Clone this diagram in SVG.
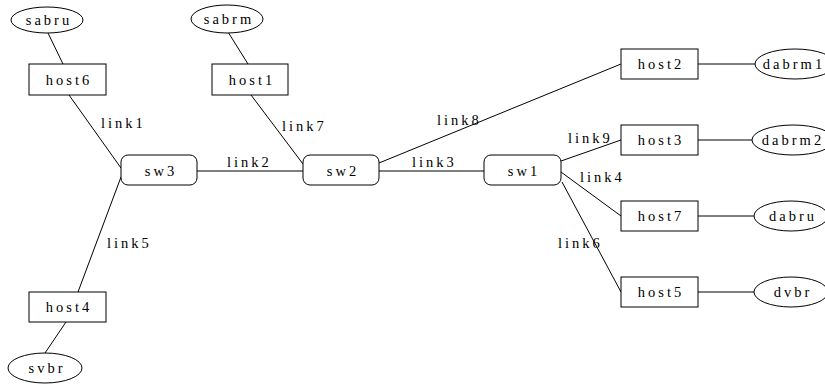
<svg xmlns="http://www.w3.org/2000/svg" width="825" height="388" viewBox="0 0 825 388">
  <style>
    .shape { fill: #ffffff; stroke: #000000; stroke-width: 1; }
    .lbl { font-family: "Liberation Serif", "DejaVu Serif", serif; font-size: 14.5px; letter-spacing: 3px; fill: #000000; }
    .mid { text-anchor: middle; }
    #edges line { stroke: #000000; stroke-width: 1; }
  </style>
  <rect width="825" height="388" fill="#ffffff"/>

  <!-- connectors -->
  <g id="edges">
    <line x1="48" y1="33" x2="63" y2="64"/>
    <line x1="69" y1="95" x2="121" y2="168"/>
    <line x1="121" y1="177" x2="78" y2="292"/>
    <line x1="66" y1="322" x2="45" y2="353"/>
    <line x1="228" y1="32" x2="248" y2="64"/>
    <line x1="251" y1="95" x2="303" y2="164"/>
    <line x1="197" y1="171" x2="303" y2="171"/>
    <line x1="379" y1="171" x2="484" y2="171"/>
    <line x1="379" y1="163" x2="621" y2="64"/>
    <line x1="561" y1="161" x2="621" y2="140"/>
    <line x1="561" y1="172" x2="621" y2="216"/>
    <line x1="562" y1="182" x2="621" y2="292"/>
    <line x1="698" y1="64" x2="755" y2="64"/>
    <line x1="698" y1="140" x2="752" y2="140"/>
    <line x1="698" y1="216" x2="754" y2="216"/>
    <line x1="698" y1="292" x2="754" y2="292"/>
    <text class="lbl" x="101" y="128">link1</text>
    <text class="lbl" x="227" y="167">link2</text>
    <text class="lbl" x="412" y="167">link3</text>
    <text class="lbl" x="580" y="182">link4</text>
    <text class="lbl" x="107" y="248">link5</text>
    <text class="lbl" x="558" y="248">link6</text>
    <text class="lbl" x="282" y="131">link7</text>
    <text class="lbl" x="437" y="125">link8</text>
    <text class="lbl" x="568" y="143">link9</text>
  </g>

  <!-- switches -->
  <g id="sw3"><rect class="shape" x="121" y="155" width="76" height="30" rx="7"/><text class="lbl mid" x="161" y="176">sw3</text></g>
  <g id="sw2"><rect class="shape" x="303" y="155" width="76" height="30" rx="7"/><text class="lbl mid" x="343" y="176">sw2</text></g>
  <g id="sw1"><rect class="shape" x="484" y="155" width="77" height="30" rx="7"/><text class="lbl mid" x="524" y="176">sw1</text></g>

  <!-- hosts -->
  <g id="host6"><rect class="shape" x="29" y="64" width="77" height="31"/><text class="lbl mid" x="69" y="85">host6</text></g>
  <g id="host1"><rect class="shape" x="212" y="64" width="76" height="31"/><text class="lbl mid" x="252" y="85">host1</text></g>
  <g id="host4"><rect class="shape" x="29" y="292" width="77" height="30"/><text class="lbl mid" x="69" y="312">host4</text></g>
  <g id="host2"><rect class="shape" x="621" y="49" width="77" height="30"/><text class="lbl mid" x="661" y="69">host2</text></g>
  <g id="host3"><rect class="shape" x="621" y="125" width="77" height="30"/><text class="lbl mid" x="661" y="145">host3</text></g>
  <g id="host7"><rect class="shape" x="621" y="201" width="77" height="30"/><text class="lbl mid" x="661" y="221">host7</text></g>
  <g id="host5"><rect class="shape" x="621" y="277" width="77" height="30"/><text class="lbl mid" x="661" y="297">host5</text></g>

  <!-- bridges -->
  <g id="sabru"><ellipse class="shape" cx="47" cy="20" rx="36" ry="13"/><text class="lbl mid" x="49" y="25">sabru</text></g>
  <g id="sabrm"><ellipse class="shape" cx="227" cy="19" rx="36" ry="14"/><text class="lbl mid" x="229" y="24">sabrm</text></g>
  <g id="svbr"><ellipse class="shape" cx="45" cy="368" rx="37" ry="15"/><text class="lbl mid" x="47" y="373">svbr</text></g>
  <g id="dabrm1"><ellipse class="shape" cx="795" cy="64" rx="40" ry="15"/><text class="lbl mid" x="794" y="69">dabrm1</text></g>
  <g id="dabrm2"><ellipse class="shape" cx="793" cy="140" rx="41" ry="15"/><text class="lbl mid" x="793" y="145">dabrm2</text></g>
  <g id="dabru"><ellipse class="shape" cx="791" cy="216" rx="37" ry="15"/><text class="lbl mid" x="793" y="221">dabru</text></g>
  <g id="dvbr"><ellipse class="shape" cx="791" cy="292" rx="37" ry="15"/><text class="lbl mid" x="793" y="297">dvbr</text></g>
</svg>
